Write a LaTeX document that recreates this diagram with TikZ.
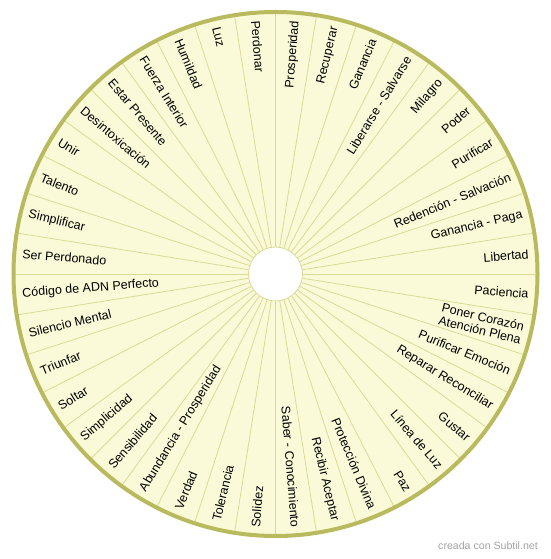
\documentclass[tikz,border=0pt]{standalone}
\usepackage{fontspec}
\setmainfont{Liberation Sans}
\definecolor{rimc}{HTML}{B9B95E}
\definecolor{fillc}{HTML}{FAFAD8}
\definecolor{spokec}{HTML}{DADA98}
\definecolor{markc}{HTML}{A4A4A4}
\begin{document}
\begin{tikzpicture}[x=1pt,y=1pt,
  lblr/.style={font=\fontsize{12.5}{13.5}\selectfont, inner sep=0pt, anchor=east, align=right},
  lbll/.style={font=\fontsize{12.5}{13.5}\selectfont, inner sep=0pt, anchor=west, align=left},
  spoke/.style={draw=spokec, line width=0.8pt}]
\useasboundingbox (-275.5,-285) rectangle (274.5,274);
\fill[white] (-275.5,-285) rectangle (274.5,274);
\coordinate (c) at (0,0);
\fill[fillc] (c) circle[radius=262];
\foreach \k in {0,...,39} {
  \draw[spoke] (\k*9:27) -- (\k*9:262);
}
\fill[white, draw=spokec, line width=0.8pt] (c) circle[radius=27];
\draw[rimc, line width=4pt] (c) circle[radius=262];
% right-side labels
\foreach \k/\t in {0/Libertad, 1/Ganancia - Paga, 2/Redención - Salvación, 3/Purificar, 4/Poder, 5/Milagro, 6/Liberarse - Salvarse, 7/Ganancia, 8/Recuperar, 9/Prosperidad, 30/Saber - Conocimiento, 31/Recibir Aceptar, 32/Protección Divina, 33/Paz, 34/Línea de Luz, 35/Gustar, 36/Reparar Reconciliar, 37/Purificar Emoción, 38/{Poner Corazón\\Atención Plena}, 39/Paciencia} {
  \pgfmathsetmacro\a{4.5+9*\k}
  \node[lblr, rotate=\a] (lab\k) at (\a:254) {\t};
}
% left-side labels
\foreach \k/\t in {10/Perdonar, 11/Luz, 12/Humildad, 13/Fuerza Interior, 14/Estar Presente, 15/Desintoxicación, 16/Unir, 17/Talento, 18/Simplificar, 19/Ser Perdonado, 20/Código de ADN Perfecto, 21/Silencio Mental, 22/Triunfar, 23/Soltar, 24/Simplicidad, 25/Sensibilidad, 26/Abundancia - Prosperidad, 27/Verdad, 28/Tolerancia, 29/Solidez} {
  \pgfmathsetmacro\a{4.5+9*\k}
  \pgfmathsetmacro\r{\a+180}
  \node[lbll, rotate=\r] (lab\k) at (\a:254) {\t};
}
\node[font=\fontsize{10.6}{12}\selectfont, text=markc, inner sep=0pt, anchor=east] (mark) at (262.5,-272) {creada con Subtil.net};
\end{tikzpicture}
\end{document}
